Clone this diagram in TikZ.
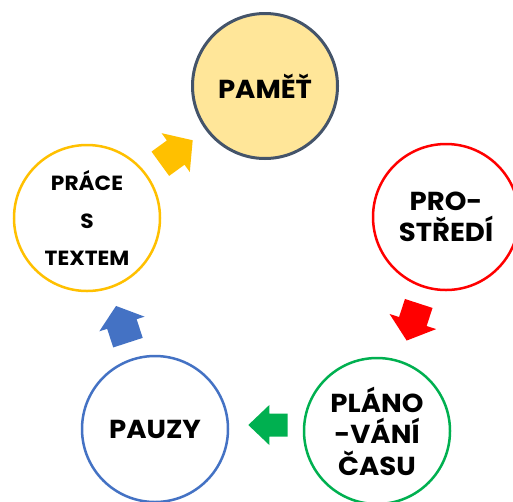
\documentclass[tikz,border=0pt]{standalone}
\usepackage{fontspec}
\setmainfont{Poppins}[FakeStretch=1.06]
\definecolor{memfill}{HTML}{FFE699}
\definecolor{memline}{HTML}{44546A}
\definecolor{cyel}{HTML}{FFC000}
\definecolor{cred}{HTML}{FF0000}
\definecolor{cgreen}{HTML}{00B050}
\definecolor{cblue}{HTML}{4472C4}
\newcommand{\blockarrow}[8]{%
  \fill[#1, shift={(#2,#3)}, rotate=#4]
    ({-#5/2},{-#6/2}) -- ({#5/2-#8},{-#6/2}) -- ({#5/2-#8},{-#7/2}) --
    ({#5/2},0) -- ({#5/2-#8},{#7/2}) -- ({#5/2-#8},{#6/2}) --
    ({-#5/2},{#6/2}) -- cycle;}
\begin{document}
\begin{tikzpicture}[x=1pt,y=-1pt,
  circ/.style={circle, minimum size=146pt, inner sep=0pt, line width=2.5pt,
    align=center, font=\bfseries\fontsize{26}{31.5}\selectfont},
  small/.style={font=\bfseries\fontsize{20.5}{37.5}\selectfont}]
\useasboundingbox[fill=white] (0,0) rectangle (513,501);
\node[circ, draw=memline, fill=memfill, line width=3pt, minimum size=145pt] (mem) at (265,86) {PAMĚŤ};
\node[circ, draw=cred] (env) at (446,217) {PRO-\\STŘEDÍ};
\node[circ, draw=cgreen] (plan) at (377,431) {PLÁNO\\-VÁNÍ\\ČASU};
\node[circ, draw=cblue] (pause) at (155,429) {PAUZY};
\node[circ, draw=cyel, small] (text) at (87,218) {PRÁCE\\S\\TEXTEM};
\blockarrow{cyel}{176.5}{152}{36}{40}{30}{48}{21}
\blockarrow{cred}{412.7}{322}{252}{39}{29}{49}{20}
\blockarrow{cgreen}{268}{425}{180}{39.4}{23}{40}{21}
\blockarrow{cblue}{122}{324.3}{108}{38.6}{31}{47.6}{19}
\end{tikzpicture}
\end{document}
